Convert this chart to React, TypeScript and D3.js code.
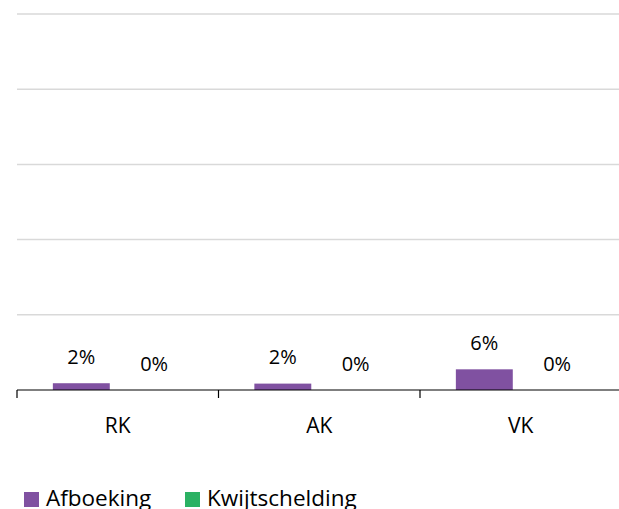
import * as d3 from "d3";

const categories = ["RK", "AK", "VK"];
const seriesNames = ["Afboeking", "Kwijtschelding"];
const afboeking = [1.8, 1.7, 5.5];
const kwijtschelding = [0, 0, 0];
const yTicks = [0, 20, 40, 60, 80, 100];

const colors = ["#8051A1", "#2BB163"];

const width = 619;
const height = 509;
const plotLeft = 17;
const plotRight = 621.5;
const plotTop = 14;
const plotBottom = 390;
const font = "'Open Sans', sans-serif";

export default function App() {
  const x = d3.scaleBand().domain(categories).range([plotLeft, plotRight]);
  const band = x.bandwidth();
  // excel-like layout: bar width, outer gap, small gap between the two series
  const barW = band / 3.54;
  const outer = (barW * 1.26) / 2;
  const inner = barW * 0.28;
  const y = d3.scaleLinear().domain([0, 100]).range([plotBottom, plotTop]);
  const series = [afboeking, kwijtschelding];

  return (
    <svg width={width} height={height} style={{ position: "absolute", left: 0, top: 0 }}>
      <rect width={width} height={height} fill="#fff" />
      {yTicks.slice(1).map((t) => (
        <line key={t} x1={plotLeft} x2={width} y1={y(t)} y2={y(t)} stroke="#d9d9d9" strokeWidth={1.5} />
      ))}
      {series.map((vals, si) =>
        categories.map((c, ci) => {
          const bx = (x(c) as number) + outer + si * (barW + inner);
          const top = y(vals[ci]);
          return (
            <g key={`${si}-${ci}`}>
              <rect x={bx} y={top} width={barW} height={plotBottom - top} fill={colors[si]} />
              <text
                x={bx + barW / 2}
                y={top - 19.5}
                textAnchor="middle"
                fontFamily={font}
                fontSize={20}
                fill="#000"
              >
                {`${Math.round(vals[ci])}%`}
              </text>
            </g>
          );
        })
      )}
      <line x1={plotLeft} x2={width} y1={plotBottom} y2={plotBottom} stroke="#000" strokeWidth={1.2} />
      {categories.map((c) => (
        <g key={c}>
          <line x1={x(c)} x2={x(c)} y1={plotBottom} y2={plotBottom + 8} stroke="#000" strokeWidth={1.2} />
          <text
            x={(x(c) as number) + band / 2}
            y={433}
            textAnchor="middle"
            fontFamily={font}
            fontSize={21}
            fill="#000"
          >
            {c}
          </text>
        </g>
      ))}
      {seriesNames.map((s, i) => {
        const lx = [24, 185][i];
        return (
          <g key={s}>
            <rect x={lx} y={492} width={15} height={15} fill={colors[i]} />
            <text x={lx + 22} y={505.5} fontFamily={font} fontSize={22.5} fill="#000">
              {s}
            </text>
          </g>
        );
      })}
    </svg>
  );
}
